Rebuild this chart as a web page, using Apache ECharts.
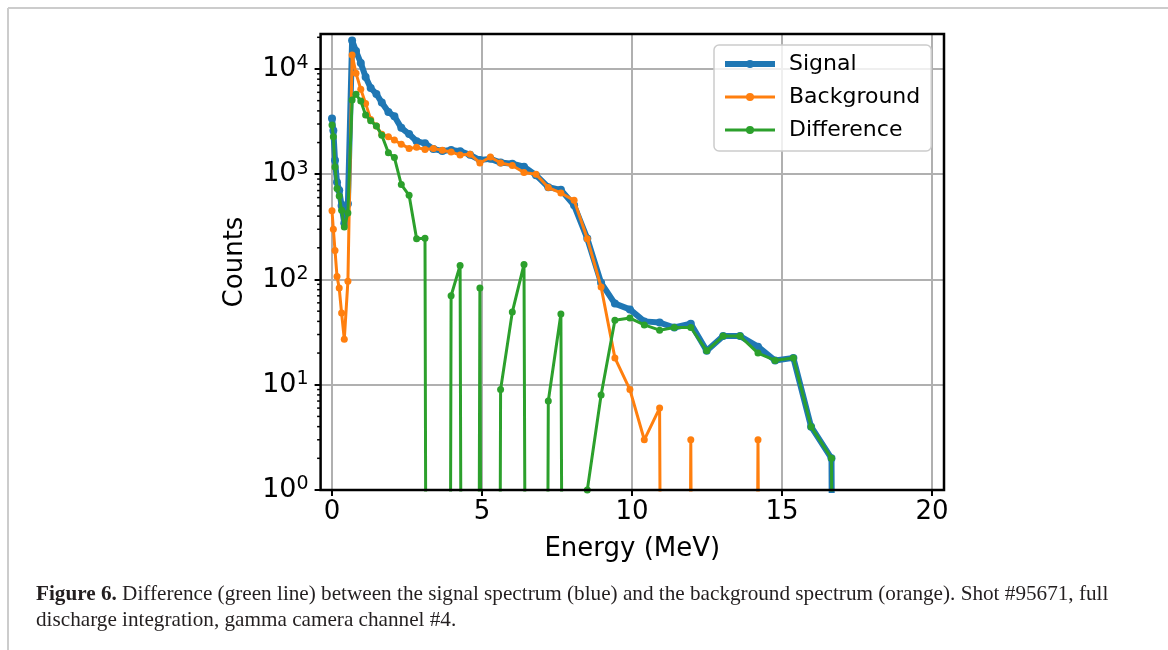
<!DOCTYPE html>
<html>
<head>
<meta charset="utf-8">
<title>Figure 6</title>
<script src="https://cdn.jsdelivr.net/npm/echarts@6/dist/echarts.min.js"></script>
<style>
  html, body { margin: 0; padding: 0; background: #fff; }
  #chart { width: 1168px; height: 650px; }
</style>
</head>
<body>
<div id="chart"></div>
<script>
// bin energies in MeV (bins get wider with energy)
const energy = [
  0.00, 0.045, 0.10, 0.167, 0.24, 0.32, 0.41, 0.53, 0.67, 0.80,
  0.96, 1.12, 1.29, 1.48, 1.66, 1.88, 2.08, 2.31, 2.57, 2.82,
  3.10, 3.38, 3.68, 3.97, 4.27, 4.60, 4.93, 5.28, 5.62, 6.01,
  6.40, 6.80, 7.21, 7.63, 8.07, 8.51, 8.97, 9.43, 9.93, 10.41,
  10.92, 11.41, 11.96, 12.49, 13.04, 13.60, 14.20, 14.77, 15.38, 15.97,
  16.65, 17.22
]
// counts per bin, 0 = empty bin (falls off the log axis)
const signal = [
  3390, 2600, 1360, 840, 703, 502, 342, 524, 18600, 14800,
  11400, 8400, 6600, 5800, 4800, 3900, 3550, 2760, 2410, 2060,
  1967, 1740, 1660, 1700, 1656, 1530, 1363, 1400, 1290, 1260,
  1180, 980, 754, 711, 507, 245, 93, 59, 52, 40,
  39, 35, 38, 21, 29, 29, 23, 17, 18, 4,
  2, 0
]
const background = [
  450, 300, 189, 107, 83, 48, 27, 96, 13600, 9100,
  6410, 4710, 3320, 2870, 2400, 2270, 2110, 1930, 1760, 1800,
  1720, 1760, 1690, 1630, 1520, 1550, 1280, 1460, 1280, 1210,
  1040, 1000, 747, 664, 565, 244, 85, 18, 9, 3,
  6, 0, 3, 0, 0, 0, 3, 0, 0, 0,
  0, 0
]
const difference = [
  2930, 2270, 1170, 731, 620, 454, 315, 428, 5070, 5740,
  4960, 3650, 3220, 2870, 2350, 1600, 1440, 798, 631, 244,
  247, 0, 0, 70, 136, 0, 83, 0, 9, 49,
  139, 0, 7, 47, 0, 1, 8, 41, 43, 37,
  33, 35, 35, 21, 29, 29, 20, 17, 18, 4,
  2, 0
]
const seriesNames = ['Signal', 'Background', 'Difference']
const seriesColors = ['#1f77b4', '#ff7f0e', '#2ca02c']

// axes ranges
const X_MIN = -0.38
const X_MAX = 20.4
const Y_MIN = 1
const Y_MAX = 21500
const X_TICK_STEP = 5
const X_TICK_MAX = 20
const Y_TICK_MAX = 10000

// layout
const FONT = 'DejaVu Sans'
const PLOT_TOP = 34
const PLOT_BOTTOM = 490
const X_ZERO_PX = 332
const PX_PER_MEV = 30
const PX_PER_DECADE = (PLOT_BOTTOM - PLOT_TOP) / Math.log10(Y_MAX / Y_MIN)
const GRID_COLOR = '#b0b0b0'

const plotLeft = X_ZERO_PX + X_MIN * PX_PER_MEV
const plotWidth = (X_MAX - X_MIN) * PX_PER_MEV
const decoYTop = PLOT_BOTTOM - Math.log10(Y_TICK_MAX / Y_MIN) * PX_PER_DECADE

// empty bins are pushed far below the axis so the line drops straight down
const FLOOR = 1e-30
const toPoints = vals => energy.map((e, i) => [e, vals[i] > 0 ? vals[i] : FLOOR])

const minorTicks = []
for (let d = 1; d <= Y_TICK_MAX; d *= 10) {
  for (let m = 2; m <= 9; m++) {
    if (m * d < Y_MAX) minorTicks.push(m * d)
  }
}

const chart = echarts.init(document.getElementById('chart'), null, { renderer: 'canvas' })

const lineSeries = [signal, background, difference].map((vals, i) => ({
  name: seriesNames[i],
  type: 'line',
  xAxisIndex: 0,
  yAxisIndex: 0,
  data: toPoints(vals),
  symbol: 'circle',
  symbolSize: i === 0 ? 8 : 7,
  showSymbol: true,
  clip: true,
  z: 2 + i,
  lineStyle: { width: i === 0 ? 6 : 3, color: seriesColors[i] },
  itemStyle: { color: seriesColors[i] },
  emphasis: { disabled: true },
}))

chart.setOption({
  animation: false,
  textStyle: { fontFamily: FONT },
  grid: [
    // data grid, its border is the frame
    {
      left: plotLeft, top: PLOT_TOP, width: plotWidth, height: PLOT_BOTTOM - PLOT_TOP,
      show: true, borderColor: '#000', borderWidth: 2.5, z: 10,
    },
    // x ticks / grid lines, spans 0..20 MeV
    {
      left: X_ZERO_PX, top: PLOT_TOP, width: X_TICK_MAX * PX_PER_MEV, height: PLOT_BOTTOM - PLOT_TOP,
    },
    // y ticks / grid lines, spans 1..1e4
    {
      left: plotLeft, top: decoYTop, width: plotWidth, height: PLOT_BOTTOM - decoYTop,
    },
  ],
  xAxis: [
    {
      gridIndex: 0, type: 'value', min: X_MIN, max: X_MAX,
      name: 'Energy (MeV)', nameLocation: 'middle', nameGap: 46,
      nameTextStyle: { fontSize: 26, color: '#000', fontFamily: FONT },
      axisLine: { show: false }, axisTick: { show: false },
      axisLabel: { show: false }, splitLine: { show: false },
    },
    {
      gridIndex: 1, type: 'value', min: 0, max: X_TICK_MAX, interval: X_TICK_STEP,
      axisLine: { show: false },
      axisTick: { show: true, length: 6, lineStyle: { color: '#000', width: 2 } },
      axisLabel: { fontSize: 26, color: '#000', margin: 9, fontFamily: FONT },
      splitLine: { show: true, lineStyle: { color: GRID_COLOR, width: 2 } },
    },
    {
      gridIndex: 2, type: 'value', min: 0, max: 1, show: false,
    },
  ],
  yAxis: [
    {
      gridIndex: 0, type: 'log', logBase: 10, min: Y_MIN, max: Y_MAX,
      name: 'Counts', nameLocation: 'middle', nameGap: 72,
      nameTextStyle: { fontSize: 26, color: '#000', fontFamily: FONT },
      axisLine: { show: false }, axisTick: { show: false },
      axisLabel: { show: false }, splitLine: { show: false },
    },
    {
      gridIndex: 1, type: 'value', min: 0, max: 1, show: false,
    },
    {
      gridIndex: 2, type: 'log', logBase: 10, min: Y_MIN, max: Y_TICK_MAX,
      axisLine: { show: false },
      axisTick: { show: true, length: 6, lineStyle: { color: '#000', width: 2 } },
      axisLabel: {
        margin: 12,
        formatter: v => '{b|10}{s|' + Math.round(Math.log10(v)) + '}',
        rich: {
          b: { fontSize: 27, lineHeight: 30, color: '#000', fontFamily: FONT },
          s: { fontSize: 19, lineHeight: 18, verticalAlign: 'top', color: '#000', fontFamily: FONT },
        },
      },
      splitLine: { show: true, lineStyle: { color: GRID_COLOR, width: 2 } },
    },
  ],
  legend: {
    data: seriesNames,
    orient: 'vertical',
    left: 714,
    top: 45,
    padding: [8, 11, 10, 8],
    itemWidth: 50,
    itemHeight: 10,
    itemGap: 11,
    lineStyle: { width: 'inherit' },
    backgroundColor: 'rgba(255,255,255,0.8)',
    borderColor: '#cccccc',
    borderWidth: 1.5,
    borderRadius: 5,
    textStyle: { fontSize: 22, color: '#000', fontFamily: FONT, padding: [0, 0, 0, 9] },
  },
  series: [
    ...lineSeries,
    {
      type: 'custom',
      xAxisIndex: 0,
      yAxisIndex: 0,
      silent: true,
      clip: false,
      data: minorTicks.map(v => [X_MIN, v]),
      renderItem: (params, api) => {
        const p = api.coord([api.value(0), api.value(1)])
        return {
          type: 'line',
          shape: { x1: p[0] - 3.5, y1: p[1], x2: p[0], y2: p[1] },
          style: { stroke: '#000', lineWidth: 1.5 },
        }
      },
    },
  ],
  graphic: [
    { type: 'line', shape: { x1: 8, y1: 8, x2: 8, y2: 650 }, style: { stroke: '#cccccc', lineWidth: 2 } },
    { type: 'line', shape: { x1: 8, y1: 8, x2: 1168, y2: 8 }, style: { stroke: '#cccccc', lineWidth: 2 } },
    {
      type: 'text', left: 36, top: 584,
      style: {
        text: '{b|Figure 6.}{n| Difference (green line) between the signal spectrum (blue) and the background spectrum (orange). Shot #95671, full}',
        rich: {
          b: { fontSize: 21.2, fontWeight: 'bold', fontFamily: 'Liberation Serif', fill: '#231f20' },
          n: { fontSize: 21.2, fontFamily: 'Liberation Serif', fill: '#231f20' },
        },
      },
    },
    {
      type: 'text', left: 36, top: 610,
      style: {
        text: 'discharge integration, gamma camera channel #4.',
        fontSize: 21.2, fontFamily: 'Liberation Serif', fill: '#231f20',
      },
    },
  ],
})
</script>
</body>
</html>
